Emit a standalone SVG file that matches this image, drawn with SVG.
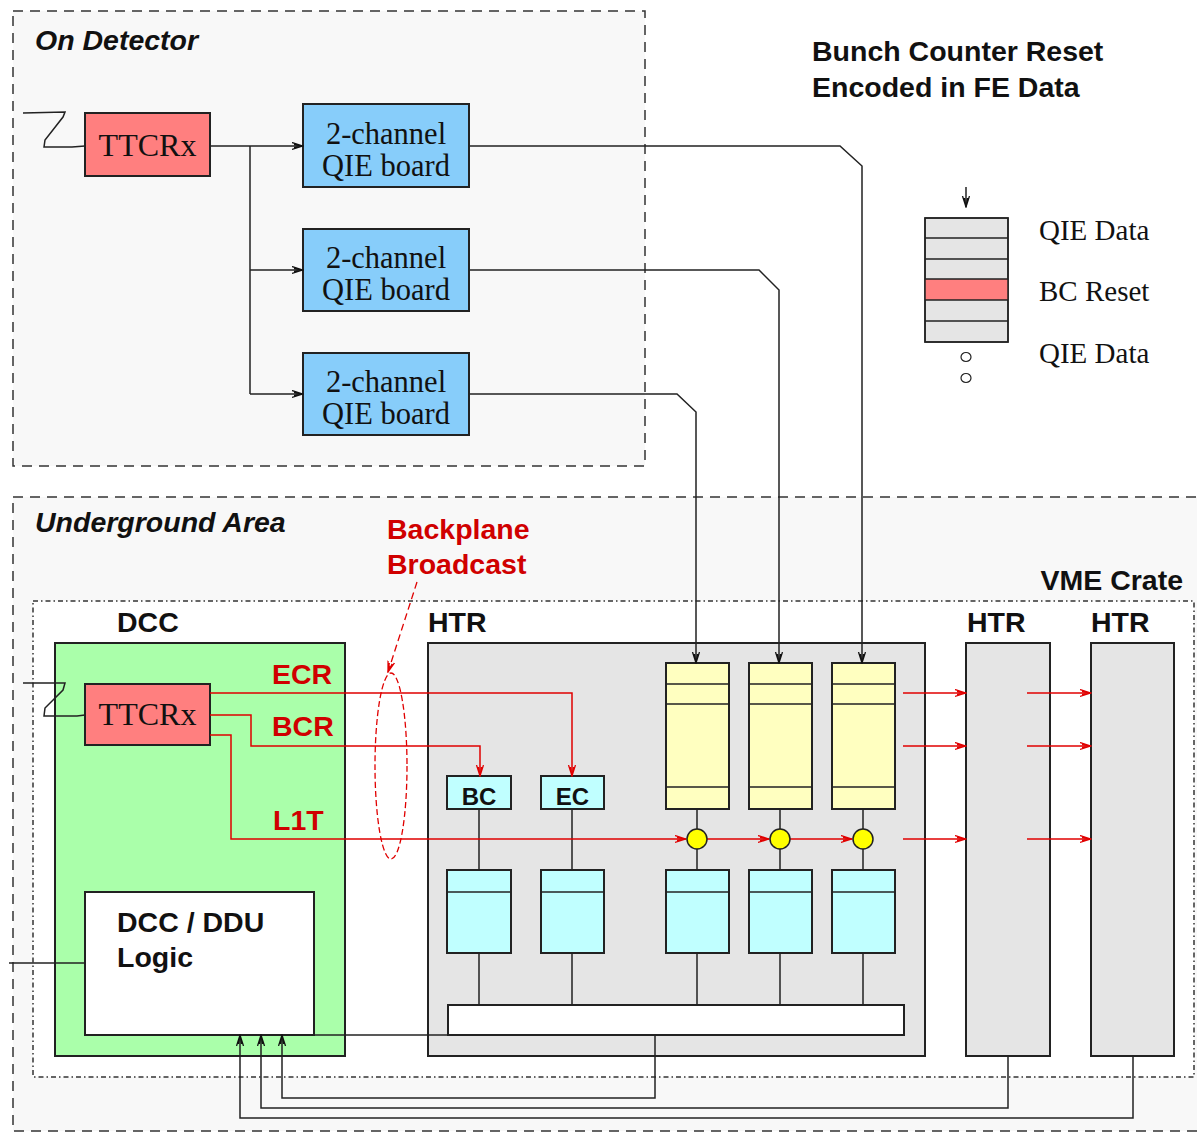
<svg xmlns="http://www.w3.org/2000/svg" width="1197" height="1135" viewBox="0 0 1197 1135">
<defs>
<style>
.area{fill:#f8f8f8;stroke:#333;stroke-width:1.5;stroke-dasharray:10,7}
.vme{fill:#fff;stroke:#333;stroke-width:1.5;stroke-dasharray:5,3,1.5,3}
.box{stroke:#222;stroke-width:2}
.ln{fill:none;stroke:#222;stroke-width:1.5}
.rl{fill:none;stroke:#e00000;stroke-width:1.5}
.serif{font-family:"Liberation Serif","Times New Roman",serif;fill:#111}
.sans{font-family:"Liberation Sans",Arial,sans-serif;font-weight:bold;fill:#111}
.lbl{font-size:28.5px}
.qie{font-size:30.5px}
.red{fill:#d00000}
.it{font-style:italic}
</style>
<marker id="ak" markerUnits="userSpaceOnUse" markerWidth="12" markerHeight="10" refX="11" refY="4" orient="auto">
<path d="M0,0.5 L11,4 L0,7.5 M2,2.5 L11,4 L2,5.5" fill="none" stroke="#111" stroke-width="1.3"/>
</marker>
<marker id="ar" markerUnits="userSpaceOnUse" markerWidth="12" markerHeight="10" refX="11" refY="4" orient="auto">
<path d="M0,0.5 L11,4 L0,7.5 M2,2.5 L11,4 L2,5.5" fill="none" stroke="#e00000" stroke-width="1.3"/>
</marker>
</defs>
<rect width="1197" height="1135" fill="#fff"/>

<g id="on-detector">
<rect class="area" x="13" y="11" width="632" height="455"/>
<text class="sans it lbl" x="35" y="50">On Detector</text>
</g>
<g id="underground-area">
<rect class="area" x="13" y="497" width="1210" height="634"/>
<text class="sans it lbl" x="35" y="532">Underground Area</text>
</g>
<g id="vme-crate">
<rect class="vme" x="33" y="601" width="1161" height="476"/>
<text class="sans lbl" x="1183" y="590" text-anchor="end">VME Crate</text>
</g>

<g id="legend">
<text class="sans lbl" x="812" y="61">Bunch Counter Reset</text>
<text class="sans lbl" x="812" y="97">Encoded in FE Data</text>
<line class="ln" x1="966" y1="187" x2="966" y2="207" marker-end="url(#ak)"/>
<rect x="925" y="218" width="83" height="124" fill="#e5e5e5" stroke="#222" stroke-width="1.5"/>
<rect x="925" y="279" width="83" height="21" fill="#ff7f7f"/>
<path class="ln" d="M925,238H1008M925,259H1008M925,279H1008M925,300H1008M925,321H1008"/>
<rect x="925" y="218" width="83" height="124" fill="none" stroke="#222" stroke-width="1.5"/>
<ellipse cx="966" cy="357" rx="5" ry="4.5" fill="none" stroke="#222" stroke-width="1.2"/>
<ellipse cx="966" cy="378" rx="5" ry="4.5" fill="none" stroke="#222" stroke-width="1.2"/>
<text class="serif" x="1039" y="240" font-size="29">QIE Data</text>
<text class="serif" x="1039" y="301" font-size="29">BC Reset</text>
<text class="serif" x="1039" y="363" font-size="29">QIE Data</text>
</g>

<g id="ttcrx-top">
<rect class="box" x="85" y="113" width="125" height="63" fill="#ff7f7f"/>
<text class="serif" x="147.5" y="156" font-size="32" text-anchor="middle">TTCRx</text>
</g>
<g id="qie-1">
<rect class="box" x="303" y="104" width="166" height="83" fill="#87cdfa"/>
<text class="serif qie" x="386" y="144" text-anchor="middle">2-channel</text>
<text class="serif qie" x="386" y="176" text-anchor="middle">QIE board</text>
</g>
<g id="qie-2">
<rect class="box" x="303" y="229" width="166" height="82" fill="#87cdfa"/>
<text class="serif qie" x="386" y="268" text-anchor="middle">2-channel</text>
<text class="serif qie" x="386" y="300" text-anchor="middle">QIE board</text>
</g>
<g id="qie-3">
<rect class="box" x="303" y="353" width="166" height="82" fill="#87cdfa"/>
<text class="serif qie" x="386" y="392" text-anchor="middle">2-channel</text>
<text class="serif qie" x="386" y="424" text-anchor="middle">QIE board</text>
</g>

<g id="dcc">
<rect class="box" x="55" y="643" width="290" height="413" fill="#aaffaa"/>
<text class="sans lbl" x="117" y="632">DCC</text>
</g>
<g id="ttcrx-dcc">
<rect class="box" x="85" y="684" width="125" height="61" fill="#ff7f7f"/>
<text class="serif" x="147.5" y="725" font-size="32" text-anchor="middle">TTCRx</text>
</g>
<g id="dcc-ddu-logic">
<rect class="box" x="85" y="892" width="229" height="143" fill="#fff"/>
<text class="sans lbl" x="117" y="932">DCC / DDU</text>
<text class="sans lbl" x="117" y="967">Logic</text>
</g>

<g id="htr-1">
<rect class="box" x="428" y="643" width="497" height="413" fill="#e5e5e5"/>
<text class="sans lbl" x="428" y="632">HTR</text>
</g>
<g id="htr-2">
<rect class="box" x="966" y="643" width="84" height="413" fill="#e5e5e5"/>
<text class="sans lbl" x="967" y="632">HTR</text>
</g>
<g id="htr-3">
<rect class="box" x="1091" y="643" width="83" height="413" fill="#e5e5e5"/>
<text class="sans lbl" x="1091" y="632">HTR</text>
</g>

<g id="bc">
<rect class="box" x="447" y="776" width="64" height="33" fill="#c0ffff"/>
<text class="sans" x="479" y="805" font-size="24" text-anchor="middle">BC</text>
</g>
<g id="ec">
<rect class="box" x="541" y="776" width="63" height="33" fill="#c0ffff"/>
<text class="sans" x="572.5" y="805" font-size="24" text-anchor="middle">EC</text>
</g>

<g id="fifo-1">
<rect class="box" x="666" y="663" width="63" height="146" fill="#ffffc0"/>
<path class="ln" d="M666,684H729M666,704H729M666,787H729"/>
</g>
<g id="fifo-2">
<rect class="box" x="749" y="663" width="63" height="146" fill="#ffffc0"/>
<path class="ln" d="M749,684H812M749,704H812M749,787H812"/>
</g>
<g id="fifo-3">
<rect class="box" x="832" y="663" width="63" height="146" fill="#ffffc0"/>
<path class="ln" d="M832,684H895M832,704H895M832,787H895"/>
</g>

<g id="buf-bc">
<rect class="box" x="447" y="870" width="64" height="83" fill="#c0ffff"/>
<line class="ln" x1="447" y1="892" x2="511" y2="892"/>
</g>
<g id="buf-ec">
<rect class="box" x="541" y="870" width="63" height="83" fill="#c0ffff"/>
<line class="ln" x1="541" y1="892" x2="604" y2="892"/>
</g>
<g id="buf-1">
<rect class="box" x="666" y="870" width="63" height="83" fill="#c0ffff"/>
<line class="ln" x1="666" y1="892" x2="729" y2="892"/>
</g>
<g id="buf-2">
<rect class="box" x="749" y="870" width="63" height="83" fill="#c0ffff"/>
<line class="ln" x1="749" y1="892" x2="812" y2="892"/>
</g>
<g id="buf-3">
<rect class="box" x="832" y="870" width="63" height="83" fill="#c0ffff"/>
<line class="ln" x1="832" y1="892" x2="895" y2="892"/>
</g>
<g id="bus">
<rect class="box" x="448" y="1005" width="456" height="30" fill="#fff"/>
</g>

<g id="connectors">
<path class="ln" d="M23,113 L65,112 L63,117 L45,140 L44,147 L72,147 L85,146"/>
<path class="ln" d="M23,683 L65,683 L63,690 L45,708 L44,716 L77,716 L85,715"/>
<line class="ln" x1="210" y1="146" x2="303" y2="146" marker-end="url(#ak)"/>
<path class="ln" d="M250,146 V394"/>
<line class="ln" x1="250" y1="270" x2="303" y2="270" marker-end="url(#ak)"/>
<line class="ln" x1="250" y1="394" x2="303" y2="394" marker-end="url(#ak)"/>
<path class="ln" d="M469,146 H840 L862,166 V663" marker-end="url(#ak)"/>
<path class="ln" d="M469,270 H759 L779,290 V663" marker-end="url(#ak)"/>
<path class="ln" d="M469,394 H677 L696,412 V663" marker-end="url(#ak)"/>
<path class="ln" d="M479,809 V870 M572,809 V870 M479,953 V1005 M572,953 V1005"/>
<path class="ln" d="M697,809 V870 M780,809 V870 M863,809 V870"/>
<path class="ln" d="M697,953 V1005 M780,953 V1005 M863,953 V1005"/>
<path class="rl" d="M210,693 H572 V776" marker-end="url(#ar)"/>
<path class="rl" d="M210,715 H251 V746 H480 V776" marker-end="url(#ar)"/>
<path class="rl" d="M210,735 H231 V839 H686" marker-end="url(#ar)"/>
<line class="rl" x1="707" y1="839" x2="769" y2="839" marker-end="url(#ar)"/>
<line class="rl" x1="790" y1="839" x2="852" y2="839" marker-end="url(#ar)"/>
<line class="rl" x1="903" y1="693" x2="966" y2="693" marker-end="url(#ar)"/>
<line class="rl" x1="903" y1="746" x2="966" y2="746" marker-end="url(#ar)"/>
<line class="rl" x1="903" y1="839" x2="966" y2="839" marker-end="url(#ar)"/>
<line class="rl" x1="1027" y1="693" x2="1091" y2="693" marker-end="url(#ar)"/>
<line class="rl" x1="1027" y1="746" x2="1091" y2="746" marker-end="url(#ar)"/>
<line class="rl" x1="1027" y1="839" x2="1091" y2="839" marker-end="url(#ar)"/>
<ellipse cx="391" cy="766" rx="16" ry="93" fill="none" stroke="#e00000" stroke-width="1.3" stroke-dasharray="6,3"/>
<line x1="417" y1="582" x2="388" y2="672" stroke="#e00000" stroke-width="1.3" stroke-dasharray="7,4" marker-end="url(#ar)"/>
<path class="ln" d="M9,963 H85"/>
<path class="ln" d="M314,1035 H448"/>
<path class="ln" d="M655,1035 V1098 H282 V1035" marker-end="url(#ak)"/>
<path class="ln" d="M1008,1056 V1108 H261 V1035" marker-end="url(#ak)"/>
<path class="ln" d="M1133,1056 V1118 H240 V1035" marker-end="url(#ak)"/>
</g>

<g id="combiners">
<circle cx="697" cy="839" r="10" fill="#ffff00" stroke="#222" stroke-width="1.5"/>
<circle cx="780" cy="839" r="10" fill="#ffff00" stroke="#222" stroke-width="1.5"/>
<circle cx="863" cy="839" r="10" fill="#ffff00" stroke="#222" stroke-width="1.5"/>
</g>

<g id="labels">
<text class="sans red lbl" x="387" y="539">Backplane</text>
<text class="sans red lbl" x="387" y="574">Broadcast</text>
<text class="sans red lbl" x="272" y="684">ECR</text>
<text class="sans red lbl" x="272" y="736">BCR</text>
<text class="sans red lbl" x="273" y="830">L1T</text>
</g>
</svg>
